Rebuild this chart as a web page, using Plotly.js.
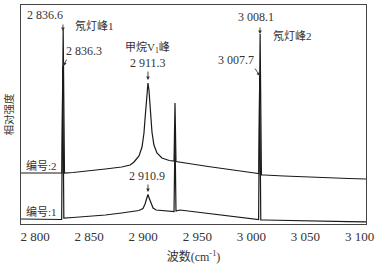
<!DOCTYPE html>
<html>
<head>
<meta charset="utf-8">
<script src="https://cdn.plot.ly/plotly-3.0.1.min.js"></script>
<style>html,body{margin:0;padding:0;background:#fff;}#chart{width:378px;height:270px;}</style>
</head>
<body>
<div id="chart"></div>
<script>
// Wavenumber (cm^-1) and relative intensity (arbitrary units)
const wave2 = [2787, 2800, 2815, 2824.8, 2826.0, 2827.2, 2835, 2850, 2865, 2880, 2888, 2891.5, 2896.1, 2898.9, 2900.7, 2901.6, 2902.55, 2903.5, 2904.4, 2905.3, 2906.25, 2907.2, 2908.1, 2909.9, 2912.7, 2917.3, 2924, 2928.5, 2929.4, 2930.3, 2934, 2945, 2960, 2975, 2990, 3003, 3006.9, 3008.1, 3009.3, 3012, 3030, 3050, 3070, 3090, 3106];
const inten2 = [51, 51, 51, 51, 194, 51, 51.5, 53, 55, 57, 59, 62, 68, 77, 91, 104, 119, 134, 141, 134, 119, 104, 92, 79, 71, 66, 63.5, 63, 121, 62.5, 62, 60, 57.5, 55, 53, 51, 50.5, 190, 49, 49, 48, 47, 46.5, 45.5, 45];

const wave1 = [2787, 2800, 2815, 2824.6, 2825.6, 2826.6, 2835, 2850, 2865, 2880, 2890, 2896, 2899.8, 2901.7, 2903.5, 2904.4, 2905.3, 2907.2, 2909.1, 2912, 2918, 2924, 2928.5, 2929.4, 2930.3, 2934, 2945, 2960, 2975, 2990, 3003, 3006.7, 3007.7, 3008.7, 3012, 3030, 3050, 3070, 3090, 3106];
const inten1 = [5, 4.7, 4.5, 4.5, 158, 6, 6.5, 7.5, 9, 11, 12.5, 13.5, 15.5, 20, 26.5, 29.5, 26.5, 20, 16, 14, 13.5, 13, 12.5, 89, 13, 14, 12.5, 10.5, 8.5, 6.5, 5, 4.5, 148, 4, 4, 3.5, 3, 2.7, 2.4, 2.2];

const tickVals = [2800, 2850, 2900, 2950, 3000, 3050, 3100];
const tickText = ['2 800', '2 850', '2 900', '2 950', '3 000', '3 050', '3 100'];

const seriesNames = ['编号:2', '编号:1'];

// label texts with their anchor (data coords)
const labelText = ['2 836.6', '氖灯峰1', '2 836.3', '甲烷V<sub>1</sub>峰', '2 911.3', '2 910.9', '3 008.1', '氖灯峰2', '3 007.7', '编号:2', '编号:1'];
const labelX = [2809.2, 2855.4, 2845.3, 2904.4, 2904.4, 2903.5, 3004.3, 3037.6, 2985.8, 2805.5, 2805.5];
const labelY = [209, 199, 173, 177, 161, 48, 207, 189, 164, 59, 13];

// arrows: head point (data) and tail offset (px)
const arrowX = [2825.8, 2826.2, 2904.4, 2904.4, 3008.0, 3008.0];
const arrowY = [193, 158, 144, 32, 190, 148];
const arrowAX = [0, 4, 0, 0, 0, -6];
const arrowAY = [-8, -8, -10, -9, -8, -9];

const FONT = 'Liberation Serif, "Noto Sans CJK SC", serif';

const traces = [
  {x: wave2, y: inten2, name: seriesNames[0], type: 'scatter', mode: 'lines', line: {color: '#1a1a1a', width: 1.2}},
  {x: wave1, y: inten1, name: seriesNames[1], type: 'scatter', mode: 'lines', line: {color: '#1a1a1a', width: 1.2}}
];

const annotations = [];
for (let i = 0; i < labelText.length; i++) {
  const cjk = /[\u4e00-\u9fff]/.test(labelText[i]);
  annotations.push({x: labelX[i], y: labelY[i], xref: 'x', yref: 'y', text: labelText[i], showarrow: false,
    xanchor: 'center', yanchor: 'middle', font: {family: FONT, size: cjk ? 11 : 12, color: '#333'}});
}
for (let i = 0; i < arrowX.length; i++) {
  annotations.push({x: arrowX[i], y: arrowY[i], xref: 'x', yref: 'y', text: '', showarrow: true,
    ax: arrowAX[i], ay: arrowAY[i], axref: 'pixel', ayref: 'pixel', arrowhead: 2, arrowsize: 0.8,
    arrowwidth: 0.9, arrowcolor: '#333', standoff: 0, startstandoff: 0});
}

const layout = {
  width: 378, height: 270,
  margin: {l: 21, r: 12, t: 5, b: 46},
  paper_bgcolor: '#fff', plot_bgcolor: '#fff',
  showlegend: false,
  font: {family: FONT, color: '#333'},
  xaxis: {
    range: [2787, 3106], tickvals: tickVals, ticktext: tickText, ticks: '',
    showgrid: false, zeroline: false, showline: true, mirror: true, linecolor: '#444', linewidth: 1,
    tickfont: {family: FONT, size: 13, color: '#333'},
    title: {text: '波数(cm<sup>-1</sup>)', font: {family: FONT, size: 12, color: '#333'}, standoff: 10}
  },
  yaxis: {
    range: [0, 219], showticklabels: false, ticks: '',
    showgrid: false, zeroline: false, showline: true, mirror: true, linecolor: '#444', linewidth: 1,
    title: {text: '相对强度', font: {family: FONT, size: 10.5, color: '#333'}, standoff: 4}
  },
  annotations: annotations
};

Plotly.newPlot('chart', traces, layout, {displayModeBar: false, staticPlot: true});
</script>
</body>
</html>
